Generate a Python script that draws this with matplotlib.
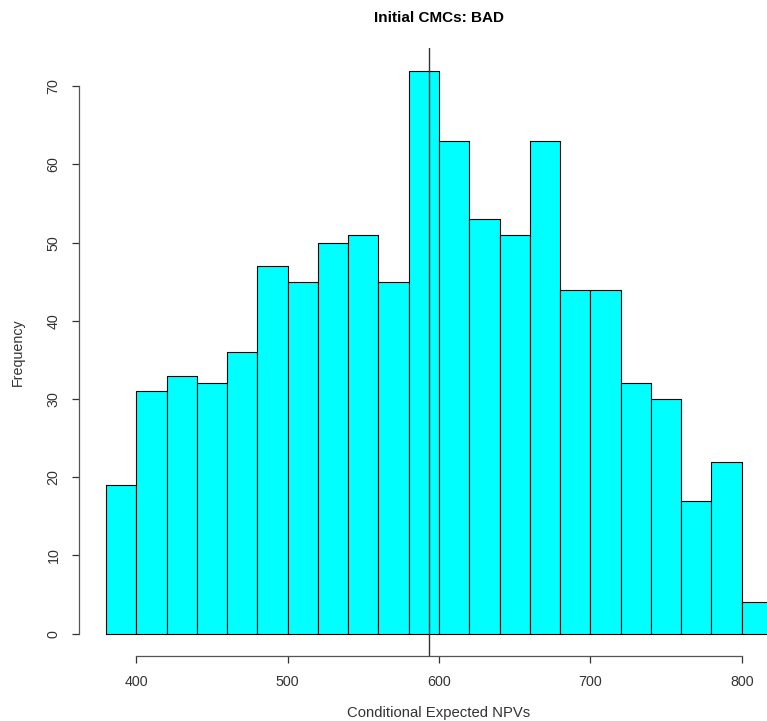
import matplotlib.pyplot as plt

plt.rcParams['font.family'] = ['Liberation Sans', 'DejaVu Sans']

bin_left = [380, 400, 420, 440, 460, 480, 500, 520, 540, 560, 580,
            600, 620, 640, 660, 680, 700, 720, 740, 760, 780, 800]
counts = [19, 31, 33, 32, 36, 47, 45, 50, 51, 45, 72,
          63, 53, 51, 63, 44, 44, 32, 30, 17, 22, 4]
bin_width = 20
mean_npv = 593.4
x_ticks = [400, 500, 600, 700, 800]
y_ticks = [0, 10, 20, 30, 40, 50, 60, 70]

W, H = 767, 721
fig = plt.figure(figsize=(W / 100, H / 100), dpi=100)
left, right = 79.4, 798.6
top, bottom = 48.1, 656.2
ax = fig.add_axes([left / W, 1 - bottom / H, (right - left) / W, (bottom - top) / H])

ax.bar(bin_left, counts, width=bin_width, align='edge',
       color='#00ffff', edgecolor='black', linewidth=0.8)
ax.axvline(mean_npv, color='#333333', linewidth=1.0)

ax.set_xlim(362.4, 837.6)
ax.set_ylim(-2.88, 74.88)

for s in ['top', 'right']:
    ax.spines[s].set_visible(False)
ax.spines['bottom'].set_bounds(400, 800)
ax.spines['left'].set_bounds(0, 70)
for s in ['bottom', 'left']:
    ax.spines[s].set_color('#555555')
    ax.spines[s].set_linewidth(0.9)

ax.set_xticks(x_ticks)
ax.set_yticks(y_ticks)
ax.set_yticklabels([str(v) for v in y_ticks], rotation=90, va='center')
ax.tick_params(axis='both', length=5, width=0.9, color='#333333',
               labelsize=10.3, labelcolor='#333333', pad=8.5)

ax.set_xlabel('Conditional Expected NPVs', fontsize=10.7, color='#333333', labelpad=12.5)
ax.set_ylabel('Frequency', fontsize=10.3, color='#333333', labelpad=16)
ax.set_title('Initial CMCs: BAD', fontsize=11, fontweight='bold', pad=19)

plt.savefig('out.png', dpi=100)
